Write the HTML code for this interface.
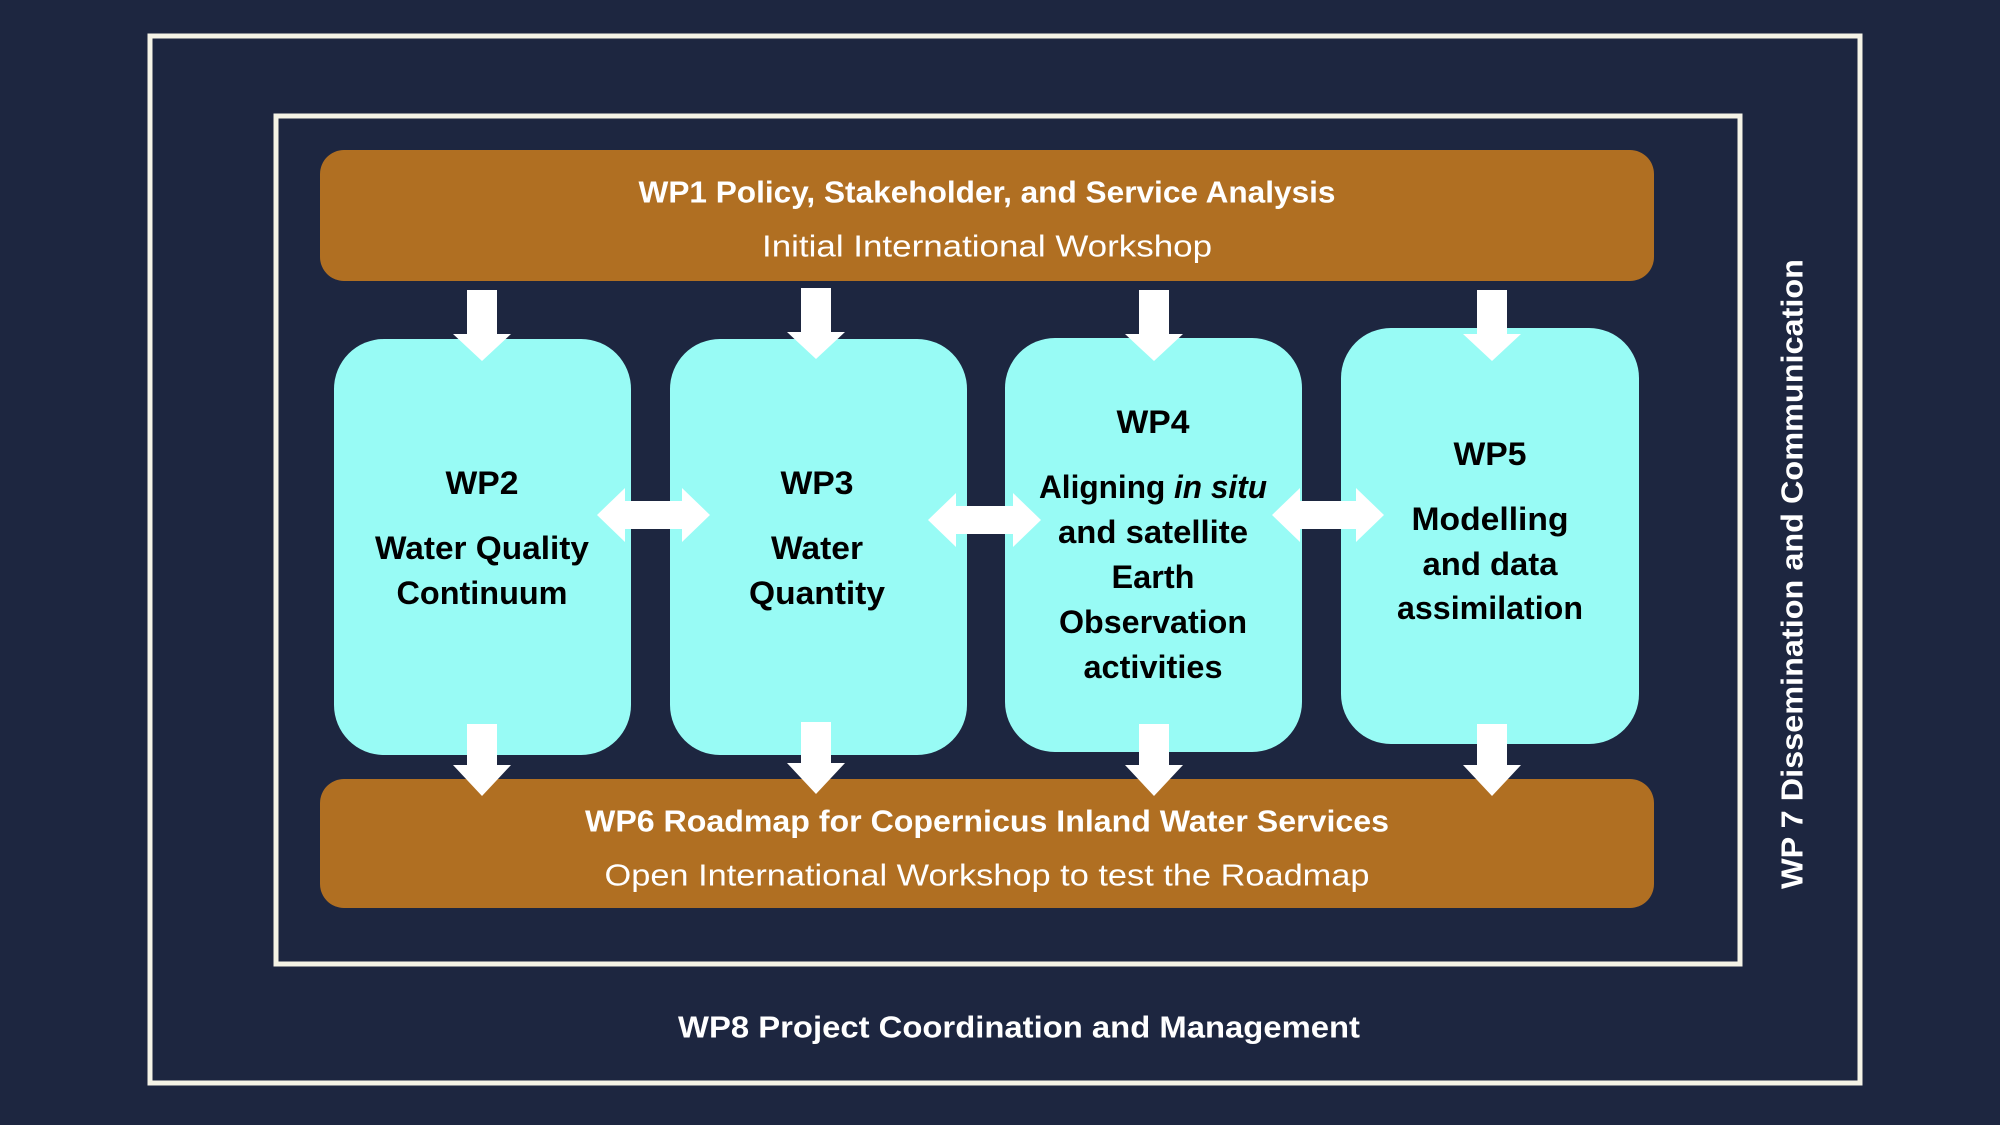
<!DOCTYPE html>
<html><head><meta charset="utf-8"><style>
html,body{margin:0;padding:0;background:#1d2640;}
svg{display:block}
text{font-family:"Liberation Sans",sans-serif;}
</style></head><body>
<svg width="2000" height="1125" viewBox="0 0 2000 1125" xmlns="http://www.w3.org/2000/svg">
<rect width="2000" height="1125" fill="#1d2640"/>
<rect x="150" y="36" width="1710" height="1047" fill="none" stroke="#f5f3e6" stroke-width="5"/>
<rect x="276" y="116" width="1464" height="848" fill="none" stroke="#f5f3e6" stroke-width="5"/>
<rect x="320" y="150" width="1334" height="131" rx="24" fill="#b06f22"/>
<rect x="320" y="779" width="1334" height="129" rx="24" fill="#b06f22"/>
<g fill="#98fbf5">
<rect x="334" y="339" width="297" height="416" rx="50"/>
<rect x="670" y="339" width="297" height="416" rx="50"/>
<rect x="1005" y="338" width="297" height="414" rx="50"/>
<rect x="1341" y="328" width="298" height="416" rx="50"/>
</g>
<g fill="#ffffff">
<polygon points="467,290 497,290 497,334 511,334 482,361 453,334 467,334"/>
<polygon points="801,288 831,288 831,332 845,332 816,359 787,332 801,332"/>
<polygon points="1139,290 1169,290 1169,334 1183,334 1154,361 1125,334 1139,334"/>
<polygon points="1477,290 1507,290 1507,334 1521,334 1492,361 1463,334 1477,334"/>
<polygon points="467,724 497,724 497,765 511,765 482,796 453,765 467,765"/>
<polygon points="801,722 831,722 831,763 845,763 816,794 787,763 801,763"/>
<polygon points="1139,724 1169,724 1169,765 1183,765 1154,796 1125,765 1139,765"/>
<polygon points="1477,724 1507,724 1507,765 1521,765 1492,796 1463,765 1477,765"/>
<polygon points="597,515 625,488 625,501 682,501 682,488 710,515 682,542 682,529 625,529 625,542"/>
<polygon points="928,520 956,493 956,506 1013,506 1013,493 1041,520 1013,547 1013,534 956,534 956,547"/>
<polygon points="1272,515 1300,488 1300,501 1356,501 1356,488 1384,515 1356,542 1356,529 1300,529 1300,542"/>
</g>
<g fill="#ffffff" text-anchor="middle" dominant-baseline="central">
<text x="987" y="192" font-size="31" font-weight="bold" textLength="697" lengthAdjust="spacingAndGlyphs">WP1 Policy, Stakeholder, and Service Analysis</text>
<text x="987" y="246" font-size="31" textLength="450" lengthAdjust="spacingAndGlyphs">Initial International Workshop</text>
<text x="987" y="821" font-size="31" font-weight="bold" textLength="804" lengthAdjust="spacingAndGlyphs">WP6 Roadmap for Copernicus Inland Water Services</text>
<text x="987" y="875" font-size="31" textLength="765" lengthAdjust="spacingAndGlyphs">Open International Workshop to test the Roadmap</text>
<text x="1019" y="1027" font-size="31" font-weight="bold" textLength="682" lengthAdjust="spacingAndGlyphs">WP8 Project Coordination and Management</text>
<text x="0" y="0" font-size="31" font-weight="bold" textLength="630" lengthAdjust="spacingAndGlyphs" transform="translate(1792,574) rotate(-90)">WP 7 Dissemination and Communication</text>
</g>
<g fill="#000000" text-anchor="middle" dominant-baseline="central" font-size="32" font-weight="bold">
<text x="482" y="483" textLength="73" lengthAdjust="spacingAndGlyphs">WP2</text>
<text x="482" y="548" textLength="214" lengthAdjust="spacingAndGlyphs">Water Quality</text>
<text x="482" y="593" textLength="171" lengthAdjust="spacingAndGlyphs">Continuum</text>
<text x="817" y="483" textLength="73" lengthAdjust="spacingAndGlyphs">WP3</text>
<text x="817" y="548" textLength="92" lengthAdjust="spacingAndGlyphs">Water</text>
<text x="817" y="593" textLength="136" lengthAdjust="spacingAndGlyphs">Quantity</text>
<text x="1153" y="422" textLength="73" lengthAdjust="spacingAndGlyphs">WP4</text>
<text x="1153" y="487" textLength="228" lengthAdjust="spacingAndGlyphs">Aligning <tspan font-style="italic">in situ</tspan></text>
<text x="1153" y="532" textLength="190" lengthAdjust="spacingAndGlyphs">and satellite</text>
<text x="1153" y="577" textLength="83" lengthAdjust="spacingAndGlyphs">Earth</text>
<text x="1153" y="622" textLength="188" lengthAdjust="spacingAndGlyphs">Observation</text>
<text x="1153" y="667" textLength="139" lengthAdjust="spacingAndGlyphs">activities</text>
<text x="1490" y="454" textLength="73" lengthAdjust="spacingAndGlyphs">WP5</text>
<text x="1490" y="519" textLength="157" lengthAdjust="spacingAndGlyphs">Modelling</text>
<text x="1490" y="564" textLength="135" lengthAdjust="spacingAndGlyphs">and data</text>
<text x="1490" y="608" textLength="186" lengthAdjust="spacingAndGlyphs">assimilation</text>
</g>
</svg>
</body></html>
